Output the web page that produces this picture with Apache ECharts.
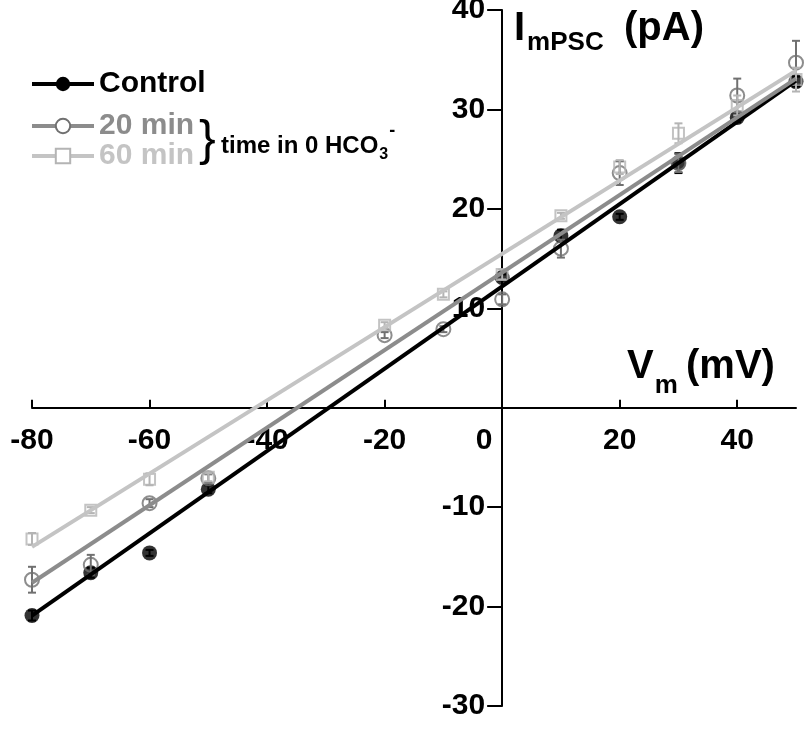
<!DOCTYPE html>
<html><head><meta charset="utf-8">
<script src="https://cdn.jsdelivr.net/npm/echarts@6/dist/echarts.min.js"></script>
<style>html,body{margin:0;padding:0;background:#fff}#c{width:806px;height:731px}</style>
</head><body><div id="c"></div>
<script>
// ---- data ----
const voltages = [-80, -70, -60, -50, -20, -10, 0, 10, 20, 30, 40, 50];
const controlI = [-20.9, -16.6, -14.6, -8.2, null, null, 13.1, 17.3, 19.2, 24.6, 29.2, 32.8];
const controlErr = [0.5, 0.5, 0.3, 0.4, null, null, 0.3, 0.6, 0.3, 1.0, 0.5, 0.5];
const min20I = [-17.3, -15.8, -9.6, -7.1, 7.3, 7.9, 10.9, 16.0, 23.6, 24.6, 31.4, 34.7];
const min20Err = [1.3, 1.0, 0.4, 0.4, 0.3, 0.3, 0.5, 0.9, 1.2, 0.9, 1.7, 2.2];
const min60I = [-13.2, -10.3, -7.2, -7.0, 8.3, 11.4, 13.4, 19.3, 24.2, 27.6, 30.4, 33.0];
const min60Err = [0.6, 0.3, 0.6, 0.4, 0.3, 0.3, 0.5, 0.3, 0.7, 1.0, 1.0, 1.2];
const fitV = [-80, 50];
const controlFit = [-20.9, 32.9];
const min20Fit = [-17.6, 33.1];
const min60Fit = [-14.0, 33.9];
const xTicks = [-80, -60, -40, -20, 0, 20, 40];
const yTicks = [-30, -20, -10, 0, 10, 20, 30, 40];
const yLabels = [-30, -20, -10, 10, 20, 30, 40];
const xMin = -80, xMax = 50, yMin = -30, yMax = 40;

const FF = '"Liberation Sans", Arial, Helvetica, sans-serif';
const C_CTRL = '#000000', C_20_LINE = '#8c8c8c', C_20_MK = '#707070', C_60_LINE = '#c4c4c4', C_60_MK = '#b4b4b4';

const GRID = { left: 32, right: 10, top: 10, bottom: 25 };
const W = 806 - GRID.left - GRID.right, H = 731 - GRID.top - GRID.bottom;
// axes cross at zero: offset each axis from its grid edge to the zero of the other axis
const xAxisOffset = -H * (0 - yMin) / (yMax - yMin);
const yAxisOffset = -W * (0 - xMin) / (xMax - xMin);

const cv = document.createElement('canvas').getContext('2d');
function tw(t, size, weight) { cv.font = (weight || 'bold') + ' ' + size + 'px ' + FF; return cv.measureText(t).width; }

function pts(ys) { return voltages.map((v, i) => ys[i] == null ? null : [v, ys[i]]).filter(Boolean); }
function errPts(ys, es) { return voltages.map((v, i) => ys[i] == null ? null : [v, ys[i], es[i]]).filter(Boolean); }
function fit(ys) { return fitV.map((v, i) => [v, ys[i]]); }

function errSeries(ys, es, color, z) {
  return {
    type: 'custom', silent: true, z: z,
    data: errPts(ys, es),
    encode: { x: 0, y: 1 },
    renderItem: function (params, api) {
      const x = api.value(0), y = api.value(1), e = api.value(2);
      const t = api.coord([x, y + e]), b = api.coord([x, y - e]);
      const w = 4;
      const st = { stroke: color, lineWidth: 2 };
      return { type: 'group', children: [
        { type: 'line', shape: { x1: t[0], y1: t[1], x2: b[0], y2: b[1] }, style: st },
        { type: 'line', shape: { x1: t[0] - w, y1: t[1], x2: t[0] + w, y2: t[1] }, style: st },
        { type: 'line', shape: { x1: b[0] - w, y1: b[1], x2: b[0] + w, y2: b[1] }, style: st }
      ] };
    }
  };
}

function T(text, x, y, size, color, weight) {
  return { type: 'text', x: x, y: y, silent: true, z: 10,
    style: { text: text, fill: color, fontSize: size, fontWeight: weight || 'bold', fontFamily: FF, align: 'left', verticalAlign: 'middle' } };
}

const graphics = [];
// Y axis title I_mPSC (pA)
graphics.push(T('I', 514, 29, 40, '#000'));
graphics.push(T('mPSC', 514 + tw('I', 40) + 2, 43, 26, '#000'));
graphics.push(T('(pA)', 624, 29, 40, '#000'));
// X axis title V_m (mV)
graphics.push(T('V', 627, 367, 40, '#000'));
graphics.push(T('m', 627 + tw('V', 40) + 1, 386, 26, '#000'));
graphics.push(T('(mV)', 686, 367, 40, '#000'));
// legend annotation
graphics.push(T('}', 199, 141, 50, '#000', 'normal'));
const ann = 'time in 0 HCO';
graphics.push(T(ann, 221, 146, 24, '#000'));
const annEnd = 221 + tw(ann, 24);
graphics.push(T('3', annEnd + 1, 155, 16, '#000'));
graphics.push(T('-', annEnd + 2 + tw('3', 16), 131, 18, '#000'));

const legendText = { fontSize: 30, fontWeight: 'bold', fontFamily: FF, lineHeight: 30 };
const legendLine = { width: 4 };

const option = {
  animation: false,
  backgroundColor: '#fff',
  grid: Object.assign({ containLabel: false, outerBoundsMode: 'none' }, GRID),
  legend: [
    { selectedMode: false, orient: 'vertical', left: 30, top: 69, padding: 0, itemWidth: 62, itemHeight: 18, itemGap: 0,
      lineStyle: legendLine, textStyle: legendText, data: [{ name: 'Control', textStyle: { color: '#000' } }] },
    { selectedMode: false, orient: 'vertical', left: 30, top: 111, padding: 0, itemWidth: 62, itemHeight: 18, itemGap: 0,
      lineStyle: legendLine, textStyle: legendText,
      data: [{ name: '20 min', textStyle: { color: C_20_LINE } }, { name: '60 min', textStyle: { color: C_60_LINE } }] }
  ],
  xAxis: {
    type: 'value', min: xMin, max: xMax, interval: 20, position: 'bottom', offset: xAxisOffset,
    splitLine: { show: false },
    axisLine: { onZero: false, lineStyle: { color: '#000', width: 2 } },
    axisTick: { inside: true, length: 8, customValues: xTicks, lineStyle: { color: '#000', width: 2 } },
    axisLabel: { customValues: xTicks, margin: 18, color: '#000', fontSize: 30, fontWeight: 'bold', fontFamily: FF,
      hideOverlap: false,
      formatter: v => v === 0 ? '{z|0}' : String(v),
      rich: { z: { padding: [0, 36, 0, 0], color: '#000', fontSize: 30, fontWeight: 'bold', fontFamily: FF } } }
  },
  yAxis: {
    type: 'value', min: yMin, max: yMax, interval: 10, position: 'left', offset: yAxisOffset,
    splitLine: { show: false },
    axisLine: { onZero: false, lineStyle: { color: '#000', width: 2 } },
    axisTick: { inside: false, length: 15, customValues: yTicks, lineStyle: { color: '#000', width: 2 } },
    axisLabel: { customValues: yLabels, margin: 17, color: '#000', fontSize: 30, fontWeight: 'bold', fontFamily: FF, hideOverlap: false }
  },
  series: [
    errSeries(controlI, controlErr, C_CTRL, 1),
    { name: 'ctrl pts', type: 'scatter', data: pts(controlI), symbol: 'circle', symbolSize: 15, itemStyle: { color: C_CTRL }, z: 2, silent: true },
    { name: '20 pts', type: 'scatter', data: pts(min20I), symbol: 'circle', symbolSize: 14,
      itemStyle: { color: 'rgba(0,0,0,0)', borderColor: C_20_MK, borderWidth: 2 }, z: 2, silent: true },
    errSeries(min20I, min20Err, C_20_MK, 3),
    { name: '60 pts', type: 'scatter', data: pts(min60I), symbol: 'rect', symbolSize: 11,
      itemStyle: { color: 'rgba(0,0,0,0)', borderColor: C_60_MK, borderWidth: 2 }, z: 2, silent: true },
    errSeries(min60I, min60Err, C_60_MK, 3),
    { name: 'Control', type: 'line', data: fit(controlFit), symbol: 'circle', showSymbol: false, z: 4, silent: true,
      lineStyle: { color: C_CTRL, width: 4 }, itemStyle: { color: C_CTRL } },
    { name: '20 min', type: 'line', data: fit(min20Fit), symbol: 'emptyCircle', showSymbol: false, z: 4, silent: true,
      lineStyle: { color: C_20_LINE, width: 4 }, itemStyle: { color: C_20_MK } },
    { name: '60 min', type: 'line', data: fit(min60Fit), symbol: 'emptyRect', showSymbol: false, z: 4, silent: true,
      lineStyle: { color: C_60_LINE, width: 4 }, itemStyle: { color: C_60_MK } }
  ],
  graphic: graphics
};

const chart = echarts.init(document.getElementById('c'), null, { renderer: 'canvas' });
chart.setOption(option);
</script>
</body></html>
